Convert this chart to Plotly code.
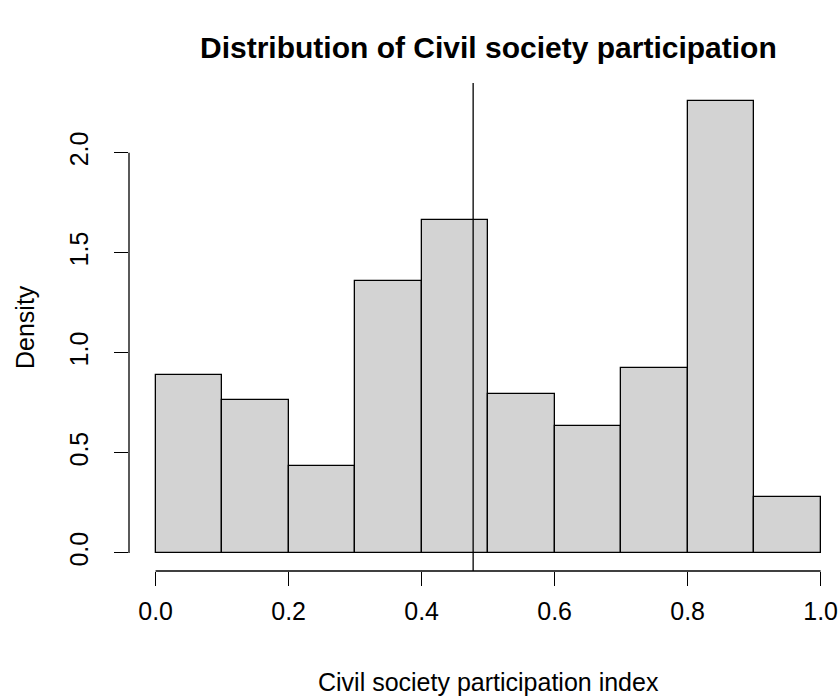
import plotly.graph_objects as go

# Histogram of the civil society participation index (density scale)
bin_edges = [0.0, 0.1, 0.2, 0.3, 0.4, 0.5, 0.6, 0.7, 0.8, 0.9, 1.0]
densities = [0.891, 0.763, 0.434, 1.357, 1.662, 0.795, 0.634, 0.925, 2.258, 0.281]
mean_value = 0.4775

x_ticks = [0.0, 0.2, 0.4, 0.6, 0.8, 1.0]
x_tick_labels = ["0.0", "0.2", "0.4", "0.6", "0.8", "1.0"]
y_ticks = [0.0, 0.5, 1.0, 1.5, 2.0]
y_tick_labels = ["0.0", "0.5", "1.0", "1.5", "2.0"]

mids = [(a + b) / 2 for a, b in zip(bin_edges[:-1], bin_edges[1:])]
widths = [b - a for a, b in zip(bin_edges[:-1], bin_edges[1:])]

FONT = "Liberation Sans, Arial, sans-serif"
BASE = 25

fig = go.Figure()
fig.add_trace(go.Bar(
    x=mids, y=densities, width=widths,
    marker=dict(color="#D3D3D3", line=dict(color="#000000", width=1.3)),
    hoverinfo="skip", showlegend=False,
))

# vertical line at the mean, across the whole plotting region
fig.add_vline(x=mean_value, line=dict(color="#000000", width=1.3))

# R-style detached axis lines spanning only the tick range
fig.add_shape(type="line", xref="x", yref="paper",
              x0=x_ticks[0], x1=x_ticks[-1], y0=0, y1=0,
              line=dict(color="#000000", width=1.3))
fig.add_shape(type="line", xref="paper", yref="y",
              x0=0, x1=0, y0=y_ticks[0], y1=y_ticks[-1],
              line=dict(color="#000000", width=1.3))

# axis limits padded by 4% like base R graphics
x_lo, x_hi = bin_edges[0], bin_edges[-1]
x_pad = 0.04 * (x_hi - x_lo)
y_hi = max(densities)
y_pad = 0.04 * y_hi

plot_left, plot_top, plot_bottom = 129, 83, 571
px_per_x = 665.0
x_right = x_lo - x_pad + (840 - plot_left) / px_per_x
# the full plotting region extends past the right edge of the page
full_right = plot_left + (x_hi + x_pad - (x_lo - x_pad)) * px_per_x
x_center = 0.5 * (full_right - plot_left) / (840 - plot_left)

fig.update_layout(
    width=840, height=697,
    margin=dict(l=plot_left, r=0, t=plot_top, b=697 - plot_bottom, pad=0),
    paper_bgcolor="white", plot_bgcolor="white",
    bargap=0,
    font=dict(family=FONT, size=BASE, color="#000000"),
    xaxis=dict(
        range=[x_lo - x_pad, x_right],
        tickvals=x_ticks, ticktext=x_tick_labels,
        ticks="outside", ticklen=14, tickwidth=1.3, tickcolor="#000000",
        showline=False, showgrid=False, zeroline=False,
        tickfont=dict(family=FONT, size=BASE),
        ticklabelstandoff=4,
    ),
    yaxis=dict(
        range=[-y_pad, y_hi + y_pad],
        tickvals=y_ticks, ticktext=y_tick_labels,
        ticks="outside", ticklen=14, tickwidth=1.3, tickcolor="#000000",
        showline=False, showgrid=False, zeroline=False,
        tickangle=-90,
        tickfont=dict(family=FONT, size=BASE),
        ticklabelstandoff=16,
    ),
    annotations=[
        dict(text="<b>Distribution of Civil society participation</b>",
             xref="paper", yref="paper", x=x_center,
             y=1, yshift=36, xanchor="center", yanchor="middle",
             showarrow=False, font=dict(family=FONT, size=30)),
        dict(text="Civil society participation index",
             xref="paper", yref="paper", x=x_center, y=0,
             yshift=-111, xanchor="center", yanchor="middle",
             showarrow=False, font=dict(family=FONT, size=BASE)),
        dict(text="Density", textangle=-90,
             xref="paper", yref="paper", x=0, y=0.5,
             xshift=-104, xanchor="center", yanchor="middle",
             showarrow=False, font=dict(family=FONT, size=BASE)),
    ],
)

fig.write_html("out.html")
